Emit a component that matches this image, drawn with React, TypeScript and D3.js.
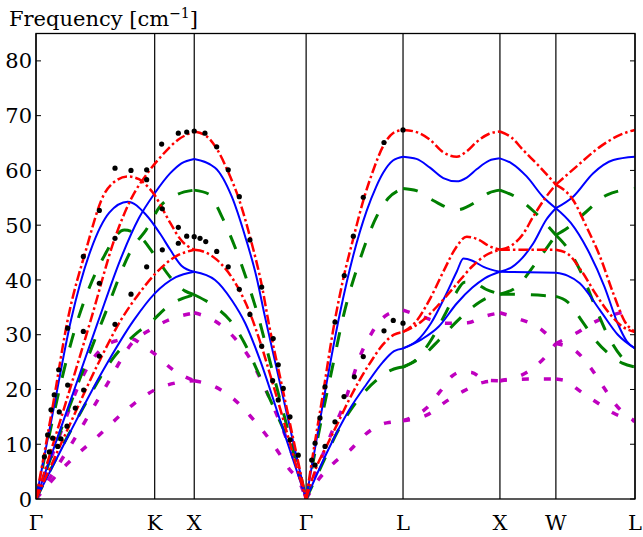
import React from "react";
import * as d3 from "d3";

type Pt = [number, number];

// high-symmetry points, cumulative path length in units of 2pi/a
const kLabels = ["Γ", "K", "X", "Γ", "L", "X", "W", "L"];
const kPositions = [0, 1.0607, 1.4142, 2.4142, 3.2802, 4.1463, 4.6463, 5.3534];
const yTicks = [0, 10, 20, 30, 40, 50, 60, 70, 80];

// model 1 (red, dash-dot)
const redBranches: Pt[][] = [
  // Γ-K-X
  [[0, 0], [0.15, 17], [0.283, 32.7], [0.447, 45.5], [0.6, 55.3], [0.72, 58.2], [0.82, 58.9], [0.92, 58.4], [0.99, 57.2], [1.06, 55.5], [1.13, 53], [1.2, 50.4], [1.3, 47.2], [1.414, 45.5]],
  [[0, 0], [0.25, 16.5], [0.49, 32.7], [0.706, 47.7], [0.85, 54.8], [1.0, 59.6], [1.12, 62.6], [1.27, 65.6], [1.414, 67.1]],
  [[0, 0], [0.3, 13.5], [0.55, 24.5], [0.76, 32.7], [0.92, 37.5], [1.06, 41], [1.25, 44.3], [1.414, 45.5]],
  // X-Γ
  [[1.414, 67.1], [1.52, 66.3], [1.62, 63.8], [1.72, 59.6], [1.81, 55], [1.92, 47.3], [2.02, 38.8], [2.08, 32.1], [2.2, 20.5], [2.3, 10.9], [2.414, 0]],
  [[1.414, 45.5], [1.52, 45], [1.615, 43.7], [1.718, 41.4], [1.808, 38.5], [1.913, 33.9], [2.017, 27.8], [2.11, 21.5], [2.21, 14.5], [2.31, 7.2], [2.414, 0]],
  // Γ-L
  [[2.414, 0], [2.478, 8.5], [2.567, 19.5], [2.657, 31], [2.746, 40.2], [2.836, 47.6], [2.925, 54.5], [3.01, 59.8], [3.104, 64.5], [3.19, 66.8], [3.28, 67.4]],
  [[2.414, 0], [2.5, 5.5], [2.6, 9.8], [2.7, 14], [2.8, 18.2], [2.9, 22], [3.0, 25.3], [3.1, 28.2], [3.2, 30], [3.28, 30.5]],
  // L-X
  [[3.28, 67.4], [3.4, 67], [3.521, 65.6], [3.64, 63.3], [3.76, 62.5], [3.85, 63.5], [3.938, 65.2], [4.05, 66.7], [4.146, 67.1]],
  [[3.28, 30.5], [3.4, 32.5], [3.52, 36.5], [3.64, 41.5], [3.75, 45.8], [3.85, 47.9], [3.95, 47.4], [4.05, 46.2], [4.146, 45.5]],
  [[3.28, 30.5], [3.45, 32.5], [3.6, 35.5], [3.75, 39], [3.9, 42.5], [4.02, 44.5], [4.146, 45.5]],
  // X-W
  [[4.146, 67.1], [4.25, 66], [4.35, 63.8], [4.5, 60.7], [4.646, 57.4]],
  [[4.146, 45.5], [4.25, 46.3], [4.35, 48.3], [4.445, 51.6], [4.56, 55.2], [4.646, 57.4]],
  [[4.146, 45.5], [4.4, 45.5], [4.646, 45.5]],
  // W-L
  [[4.646, 57.4], [4.83, 60.7], [5.04, 64.3], [5.22, 66.5], [5.353, 67.4]],
  [[4.646, 57.4], [4.8, 54.6], [4.92, 49.7], [5.04, 44.3], [5.16, 37.5], [5.26, 32.5], [5.353, 30.5]],
  [[4.646, 45.5], [4.75, 44.8], [4.88, 41.5], [5.0, 37.5], [5.12, 34], [5.24, 31.5], [5.353, 30.5]],
];

// model 2 (blue, solid)
const blueBranches: Pt[][] = [
  [[0, 0], [0.15, 15.7], [0.313, 32.7], [0.49, 45.5], [0.655, 52.3], [0.82, 54.3], [0.983, 51.9], [1.117, 48.2], [1.2, 45.5], [1.3, 42.6], [1.414, 41.5]],
  [[0, 0], [0.3, 17.5], [0.55, 32.1], [0.75, 43.5], [0.92, 51.3], [1.06, 55.8], [1.2, 59.5], [1.3, 61.3], [1.414, 62.1]],
  [[0, 0], [0.3, 12], [0.6, 23.5], [0.876, 32.7], [1.06, 37.5], [1.25, 40.5], [1.414, 41.5]],
  [[1.414, 62.1], [1.6, 60.5], [1.75, 55.2], [1.87, 47.9], [1.97, 40.6], [2.046, 33.3], [2.15, 23.9], [2.28, 12.1], [2.414, 0]],
  [[1.414, 41.5], [1.6, 40], [1.75, 36.3], [1.87, 32.1], [2.0, 25.5], [2.2, 13.2], [2.414, 0]],
  [[2.414, 0], [2.5, 10], [2.6, 21.5], [2.717, 34], [2.836, 44.5], [2.955, 52.6], [3.04, 57], [3.104, 59.6], [3.19, 61.8], [3.28, 62.5]],
  [[2.414, 0], [2.6, 8.5], [2.8, 16.3], [2.955, 21], [3.1, 25], [3.2, 27], [3.28, 27.5]],
  [[3.28, 62.5], [3.4, 62.1], [3.521, 60.5], [3.64, 58.6], [3.76, 58], [3.85, 58.7], [3.938, 60.2], [4.05, 61.8], [4.146, 62.2]],
  [[3.28, 27.5], [3.4, 28.8], [3.53, 32.1], [3.67, 37.6], [3.76, 41.5], [3.82, 43.9], [3.9, 43.5], [4.0, 42.4], [4.146, 41.5]],
  [[3.28, 27.5], [3.45, 29.2], [3.6, 31.5], [3.76, 35.7], [3.9, 38.6], [4.01, 40.3], [4.146, 41.5]],
  [[4.146, 62.2], [4.25, 61.3], [4.385, 58.9], [4.53, 55.2], [4.646, 53.1]],
  [[4.146, 41.5], [4.25, 42.3], [4.445, 46.7], [4.56, 51], [4.646, 53.1]],
  [[4.146, 41.5], [4.4, 41.4], [4.646, 41.3]],
  [[4.646, 53.1], [4.8, 55.2], [4.98, 59.5], [5.16, 61.9], [5.353, 62.5]],
  [[4.646, 53.1], [4.78, 50.4], [4.93, 45.5], [5.08, 38.8], [5.2, 32], [5.28, 28.8], [5.353, 27.5]],
  [[4.646, 41.3], [4.75, 40.8], [4.86, 39.4], [5.04, 34.5], [5.2, 30], [5.353, 27.5]],
];

// model 3 (green, dashed)
const greenBranches: Pt[][] = [
  [[0, 0], [0.373, 32.7], [0.6, 44], [0.79, 49.1], [0.95, 47.5], [1.06, 44.5], [1.2, 40.5], [1.33, 38], [1.414, 37.3]],
  [[0, 0], [0.596, 32.7], [0.87, 46.1], [0.983, 49.1], [1.108, 53.4], [1.26, 55.6], [1.414, 56.4]],
  [[0, 0], [0.364, 14.5], [0.7, 26], [0.9, 30.3], [1.0, 31.8], [1.2, 35.5], [1.414, 37.3]],
  [[1.414, 56.4], [1.55, 55.6], [1.66, 51.6], [1.81, 44.3], [1.913, 38.2], [1.97, 34.5], [2.1, 24.4], [2.2, 16.6], [2.414, 0]],
  [[1.414, 37.3], [1.6, 35.1], [1.73, 32.7], [1.865, 28.4], [1.987, 23], [2.12, 16.9], [2.24, 11.4], [2.33, 7.1], [2.414, 0]],
  [[2.414, 0], [2.538, 13.2], [2.657, 24.8], [2.746, 33.3], [2.895, 43.7], [3.045, 51.6], [3.148, 54.9], [3.28, 56.7]],
  [[2.414, 0], [2.55, 6], [2.7, 12.5], [2.866, 17.8], [3.074, 22.2], [3.18, 23.6], [3.28, 24.1]],
  [[3.28, 56.7], [3.4, 56.3], [3.55, 54.5], [3.76, 52.8], [3.95, 54.5], [4.05, 55.9], [4.146, 56.4]],
  [[3.28, 24.1], [3.4, 25.5], [3.53, 29], [3.65, 33.5], [3.75, 37.5], [3.83, 39.6], [3.92, 39.4], [4.02, 38.3], [4.146, 37.4]],
  [[3.28, 24.1], [3.45, 26], [3.6, 29], [3.75, 32.2], [3.9, 35], [4.02, 36.6], [4.146, 37.4]],
  [[4.146, 56.4], [4.3, 55], [4.45, 52.5], [4.646, 48.2]],
  [[4.146, 37.4], [4.3, 38.8], [4.45, 42.6], [4.646, 48.2]],
  [[4.146, 37.4], [4.4, 37.3], [4.646, 37]],
  [[4.646, 48.2], [4.75, 49.5], [4.92, 52.5], [5.1, 55.5], [5.353, 56.7]],
  [[4.646, 48.2], [4.76, 45.5], [4.88, 41], [5.0, 35], [5.12, 29.5], [5.24, 25.8], [5.353, 24.1]],
  [[4.646, 37], [4.75, 36], [4.88, 32.5], [5.0, 29], [5.12, 26.5], [5.24, 24.8], [5.353, 24.1]],
];

// model 4 (magenta, dotted)
const magentaBranches: Pt[][] = [
  [[0, 0], [0.2, 11], [0.43, 22.9], [0.536, 26.3], [0.7, 28.8], [0.85, 29.3], [0.97, 27.8], [1.06, 26.5], [1.23, 23.5], [1.414, 21.6]],
  [[0, 0], [0.3, 9.5], [0.64, 21.1], [0.86, 28.5], [1.02, 30.9], [1.2, 32.8], [1.414, 34]],
  [[0, 0], [0.268, 6.2], [0.55, 11.4], [0.864, 17.2], [1.06, 19.9], [1.25, 21.2], [1.414, 21.6]],
  [[1.414, 34], [1.6, 32.5], [1.77, 29.5], [1.92, 25.4], [2.04, 20.5], [2.15, 15.5], [2.27, 9.3], [2.36, 3.8], [2.414, 0]],
  [[1.414, 21.6], [1.6, 20.5], [1.77, 18.2], [1.913, 15.2], [2.045, 12], [2.165, 8.6], [2.27, 5.3], [2.345, 3.5], [2.414, 0]],
  [[2.414, 0], [2.523, 6], [2.63, 11.5], [2.746, 17], [2.821, 21.5], [2.895, 26], [3.0, 30.3], [3.134, 33.6], [3.28, 34.5]],
  [[2.414, 0], [2.523, 3.5], [2.657, 6.5], [2.806, 8.9], [2.955, 12], [3.134, 13.9], [3.28, 14.2]],
  [[3.28, 34.5], [3.45, 33.3], [3.67, 32.1], [3.86, 32.2], [4.0, 33.3], [4.146, 34]],
  [[3.28, 14.3], [3.4, 15.3], [3.49, 16.6], [3.61, 19.6], [3.715, 22.4], [3.8, 23.2], [3.894, 23.1], [4.013, 21.7], [4.146, 21.6]],
  [[3.28, 14.3], [3.51, 15.5], [3.65, 17.6], [3.82, 19.7], [4.0, 21.3], [4.146, 21.6]],
  [[4.146, 34], [4.3, 33], [4.52, 30.9], [4.646, 28.4]],
  [[4.146, 21.6], [4.4, 23.3], [4.55, 25.9], [4.646, 28.4]],
  [[4.146, 21.6], [4.4, 21.9], [4.646, 21.9]],
  [[4.646, 28.4], [4.83, 30.3], [5.0, 32.4], [5.2, 33.9], [5.353, 34.4]],
  [[4.646, 28.4], [4.83, 26.9], [4.966, 23.7], [5.07, 20.5], [5.19, 17], [5.353, 14.2]],
  [[4.646, 21.9], [4.75, 21.5], [4.83, 20.2], [5.0, 17.8], [5.16, 15.7], [5.353, 14.2]],
];

// neutron scattering data
const expPoints: Pt[] = [
  [0.075, 7.7], [0.104, 11.7], [0.134, 16.3], [0.163, 19], [0.203, 23.6], [0.283, 31.2], [0.423, 44.3], [0.566, 52.7],
  [0.706, 60.4], [0.849, 60], [0.989, 60.1], [0.989, 58.3], [1.129, 53], [1.272, 49.6],
  [0.119, 8.6], [0.149, 11.1], [0.208, 15.9], [0.283, 20.8], [0.423, 30.6], [0.566, 39.4], [0.706, 47.6],
  [1.123, 64.8], [1.272, 66.8], [1.347, 67], [1.414, 67.2],
  [0.194, 9.6], [0.223, 11], [0.277, 13.3], [0.351, 16.6], [0.426, 19.9], [0.566, 26.1], [0.706, 31.9], [0.849, 37.4],
  [0.989, 42.4], [1.129, 45.5], [1.272, 46.7], [1.347, 48], [1.414, 47.9], [1.466, 47.6], [1.517, 47], [1.615, 45.2],
  [1.718, 42.4], [1.817, 38.3], [1.912, 33.7], [2.017, 27.9],
  [1.51, 66.8], [1.615, 64.3], [1.718, 60.1], [1.817, 55.2], [1.912, 47.3], [2.017, 38.7], [2.12, 29.3], [2.165, 24.5],
  [2.115, 21.6], [2.21, 20.2], [2.165, 18.1], [2.27, 15], [2.27, 10.8], [2.344, 8],
  [2.464, 7.1], [2.494, 10.2], [2.538, 14.8], [2.583, 20.5], [2.672, 32.3], [2.755, 40.8], [2.836, 48], [2.925, 55.1],
  [3.11, 65.1], [3.28, 67.4],
  [2.494, 6.2], [2.583, 9.6], [2.672, 14.1], [2.753, 18.7], [2.845, 22.3], [2.925, 26], [3.11, 30.7], [3.193, 32.6], [3.28, 32.1],
];

const W = 643;
const H = 537;
const margin = { top: 33.5, right: 8, bottom: 38, left: 36 };

const x = d3.scaleLinear().domain([0, 5.3534]).range([margin.left, W - margin.right]);
const y = d3.scaleLinear().domain([0, 85]).range([H - margin.bottom, margin.top]);

const line = d3
  .line<Pt>()
  .x((d) => x(d[0]))
  .y((d) => y(d[1]))
  .curve(d3.curveMonotoneX);

const textStyle = { fontFamily: "DejaVu Serif, Liberation Serif, serif", fontSize: "21px" };

const series = [
  { branches: magentaBranches, color: "#bf00bf", width: 3.5, dash: "7,15" },
  { branches: greenBranches, color: "#007f00", width: 3, dash: "15,16" },
  { branches: blueBranches, color: "#0000ff", width: 2, dash: "none" },
  { branches: redBranches, color: "#ff0000", width: 2.5, dash: "10,3,2.5,3" },
];

export default function App() {
  const x0 = margin.left;
  const x1 = W - margin.right;
  const y0 = H - margin.bottom;
  const y1 = margin.top;

  return (
    <div style={{ position: "absolute", left: 0, top: 0 }}>
      <svg width={W} height={H} style={{ display: "block", background: "#fff" }}>
        <defs>
          <clipPath id="plot">
            <rect x={x0} y={y1} width={x1 - x0} height={y0 - y1} />
          </clipPath>
        </defs>

        {/* vertical lines at high-symmetry points */}
        {kPositions.map((k, i) => (
          <line key={"v" + i} x1={x(k)} x2={x(k)} y1={y1} y2={y0} stroke="#000" strokeWidth={1.2} />
        ))}

        <g clipPath="url(#plot)">
          {series.map((s, si) =>
            s.branches.map((b, bi) => (
              <path
                key={si + "-" + bi}
                d={line(b) || ""}
                fill="none"
                stroke={s.color}
                strokeWidth={s.width}
                strokeDasharray={s.dash}
              />
            ))
          )}
          {expPoints.map((p, i) => (
            <circle key={"e" + i} cx={x(p[0])} cy={y(p[1])} r={2.6} fill="#000" />
          ))}
        </g>

        {/* frame */}
        <rect x={x0} y={y1} width={x1 - x0} height={y0 - y1} fill="none" stroke="#000" strokeWidth={1.3} />

        {/* y ticks */}
        {yTicks.map((t) => (
          <g key={"t" + t}>
            <line x1={x0} x2={x0 + 5} y1={y(t)} y2={y(t)} stroke="#000" strokeWidth={1} />
            <line x1={x1} x2={x1 - 5} y1={y(t)} y2={y(t)} stroke="#000" strokeWidth={1} />
            <text x={x0 - 4} y={y(t)} dy="0.36em" textAnchor="end" style={textStyle}>
              {t}
            </text>
          </g>
        ))}

        {/* x labels */}
        {kLabels.map((l, i) => (
          <text key={"l" + i} x={x(kPositions[i])} y={530} textAnchor="middle" style={textStyle}>
            {l}
          </text>
        ))}

        {/* axis title */}
        <text x={9} y={26} style={textStyle}>
          Frequency [cm
          <tspan dy={-8} style={{ fontSize: "14px" }}>−1</tspan>
          <tspan dy={8}>]</tspan>
        </text>
      </svg>
    </div>
  );
}
